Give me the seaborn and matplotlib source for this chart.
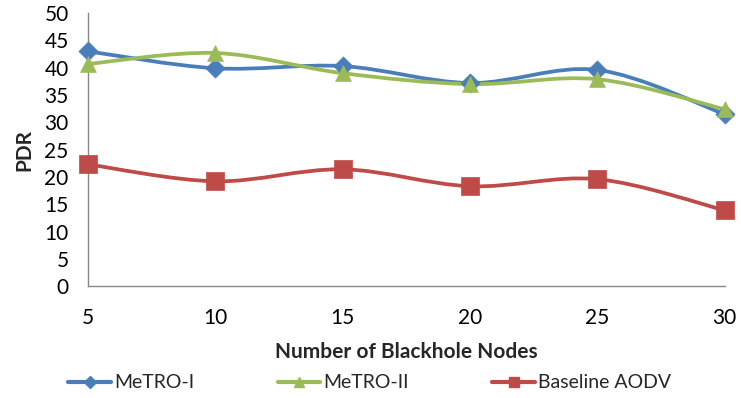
import numpy as np
import pandas as pd
import matplotlib
matplotlib.use("Agg")
import matplotlib.pyplot as plt
from matplotlib.path import Path
from matplotlib.patches import PathPatch
from matplotlib.lines import Line2D
import seaborn as sns

# Data
blackhole_nodes = [5, 10, 15, 20, 25, 30]
metro_i = [43.0, 39.9, 40.3, 37.2, 39.6, 31.5]
metro_ii = [40.7, 42.7, 39.0, 37.0, 37.9, 32.4]
baseline_aodv = [22.3, 19.2, 21.4, 18.3, 19.6, 13.9]
series_names = ["MeTRO-I", "MeTRO-II", "Baseline AODV"]

sns.set_style("white")
plt.rcParams["font.family"] = ["Lato", "DejaVu Sans"]

df = pd.DataFrame({
    "Nodes": blackhole_nodes * 3,
    "PDR": metro_i + metro_ii + baseline_aodv,
    "Series": sum([[n] * len(blackhole_nodes) for n in series_names], []),
})

colors = {"MeTRO-I": "#4A7EBB", "MeTRO-II": "#9BBB59", "Baseline AODV": "#BE4B48"}
markers = {"MeTRO-I": "D", "MeTRO-II": "^", "Baseline AODV": "s"}
msizes = {"MeTRO-I": 95, "MeTRO-II": 130, "Baseline AODV": 150}

fig = plt.figure(figsize=(7.41, 3.98), dpi=100)
ax = fig.add_axes([0.119, 0.281, 0.859, 0.686])


def smooth_path(xs, ys):
    """Cubic Bezier path through the points (spreadsheet-style smoothed line)."""
    pts = np.column_stack([xs, ys]).astype(float)
    n = len(pts)
    verts = [pts[0]]
    codes = [Path.MOVETO]
    for i in range(n - 1):
        p0 = pts[i - 1] if i > 0 else pts[i]
        p1 = pts[i]
        p2 = pts[i + 1]
        p3 = pts[i + 2] if i + 2 < n else pts[i + 1]
        c1 = p1 + (p2 - p0) / 6.0
        c2 = p2 - (p3 - p1) / 6.0
        verts += [c1, c2, p2]
        codes += [Path.CURVE4] * 3
    return Path(verts, codes)


for name in series_names:
    sub = df[df["Series"] == name]
    patch = PathPatch(smooth_path(sub["Nodes"].values, sub["PDR"].values),
                      facecolor="none", edgecolor=colors[name], lw=2.7,
                      capstyle="round", joinstyle="round", zorder=2)
    ax.add_patch(patch)

for name in series_names:
    sub = df[df["Series"] == name]
    sns.scatterplot(data=sub, x="Nodes", y="PDR", ax=ax, color=colors[name],
                    marker=markers[name], s=msizes[name], edgecolor=colors[name],
                    linewidth=0.5, zorder=3, legend=False)

ax.set_xlim(5, 30)
ax.set_ylim(0, 50)
ax.set_xticks(blackhole_nodes)
ax.set_yticks(range(0, 51, 5))
for coll in ax.collections:
    coll.set_clip_on(False)

for s in ["top", "right"]:
    ax.spines[s].set_visible(False)
for s in ["left", "bottom"]:
    ax.spines[s].set_color("#888888")
    ax.spines[s].set_linewidth(1.0)

ax.tick_params(axis="both", which="major", direction="out", length=6,
               width=1.0, color="#888888", labelsize=15, labelcolor="black")
ax.tick_params(axis="x", pad=10)
ax.tick_params(axis="y", pad=8)

ax.set_xlabel("Number of Blackhole Nodes", fontsize=15, fontweight="bold", labelpad=10)
ax.set_ylabel("PDR", fontsize=15, fontweight="bold", labelpad=7)

handles = [Line2D([0], [0], color=colors[n], lw=3, marker=markers[n],
                  markersize=7 if n != "MeTRO-I" else 6, label=n)
           for n in series_names]
fig.legend(handles=handles, loc="center", bbox_to_anchor=(0.499, 0.038), ncol=3,
           frameon=False, fontsize=14, handlelength=2.2, handletextpad=0.15,
           columnspacing=4.3)

fig.savefig("out.png", dpi=100)
